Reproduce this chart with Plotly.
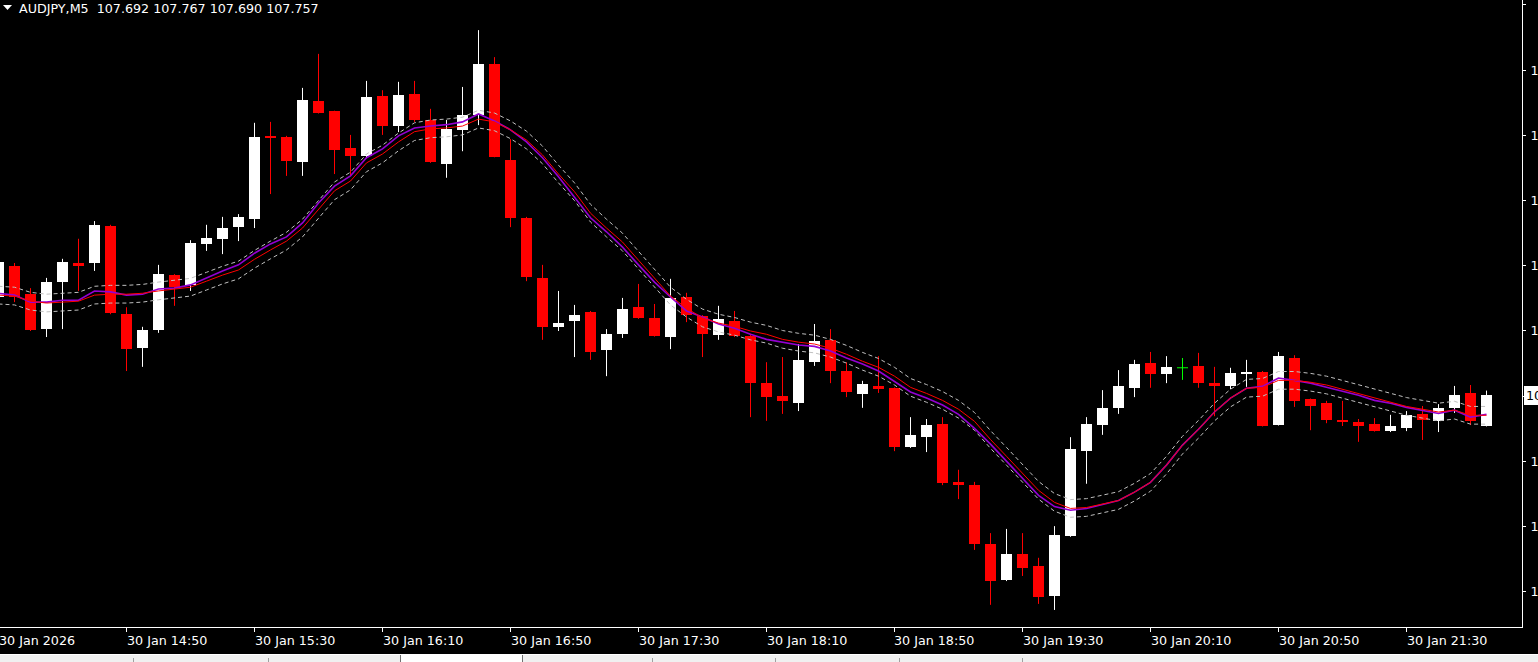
import plotly.graph_objects as go
import pandas as pd

# ---------------- data ----------------
symbol = "AUDJPY"
timeframe = "M5"
times = [t.strftime("%H:%M") for t in pd.date_range("2026-01-30 14:10", periods=94, freq="5min")]

opens = [107.968, 108.034, 107.974, 107.899, 108.000, 108.041, 108.041, 108.120, 107.931, 107.858,
         107.897, 108.015, 107.994, 108.082, 108.093, 108.118, 108.135, 108.314, 108.312, 108.258,
         108.389, 108.367, 108.288, 108.271, 108.400, 108.335, 108.404, 108.348, 108.254, 108.327,
         108.359, 108.468, 108.262, 108.138, 108.009, 107.904, 107.916, 107.936, 107.854, 107.889,
         107.946, 107.923, 107.882, 107.968, 107.927, 107.886, 107.916, 107.884, 107.783, 107.755,
         107.740, 107.828, 107.876, 107.809, 107.760, 107.777, 107.773, 107.646, 107.667, 107.695,
         107.571, 107.564, 107.438, 107.360, 107.416, 107.390, 107.326, 107.455, 107.637, 107.693,
         107.730, 107.773, 107.826, 107.803, 107.816, 107.820, 107.783, 107.777, 107.803, 107.807,
         107.693, 107.837, 107.749, 107.740, 107.704, 107.700, 107.695, 107.680, 107.687, 107.717,
         107.702, 107.730, 107.762, 107.692]
highs = [108.052, 108.041, 107.987, 108.009, 108.050, 108.093, 108.131, 108.123, 107.946, 107.904,
         108.037, 108.017, 108.090, 108.123, 108.140, 108.146, 108.342, 108.344, 108.314, 108.417,
         108.490, 108.368, 108.316, 108.432, 108.412, 108.430, 108.432, 108.372, 108.348, 108.419,
         108.541, 108.483, 108.307, 108.140, 108.037, 107.981, 107.951, 107.938, 107.899, 107.966,
         107.996, 107.953, 108.007, 107.977, 107.929, 107.949, 107.938, 107.889, 107.828, 107.839,
         107.867, 107.910, 107.899, 107.828, 107.788, 107.841, 107.774, 107.710, 107.706, 107.710,
         107.597, 107.571, 107.461, 107.470, 107.461, 107.408, 107.476, 107.667, 107.710, 107.768,
         107.811, 107.833, 107.850, 107.841, 107.837, 107.848, 107.818, 107.816, 107.833, 107.809,
         107.850, 107.843, 107.750, 107.745, 107.745, 107.706, 107.708, 107.715, 107.723, 107.734,
         107.738, 107.777, 107.779, 107.767]
lows = [107.962, 107.957, 107.895, 107.882, 107.899, 107.981, 108.024, 107.931, 107.809, 107.818,
        107.891, 107.949, 107.981, 108.067, 108.060, 108.088, 108.116, 108.189, 108.228, 108.228,
        108.362, 108.232, 108.228, 108.266, 108.316, 108.322, 108.344, 108.256, 108.224, 108.281,
        108.337, 108.268, 108.118, 108.002, 107.876, 107.895, 107.839, 107.833, 107.798, 107.880,
        107.921, 107.883, 107.856, 107.914, 107.839, 107.876, 107.882, 107.710, 107.702, 107.717,
        107.723, 107.820, 107.783, 107.753, 107.730, 107.762, 107.637, 107.644, 107.635, 107.564,
        107.534, 107.425, 107.307, 107.358, 107.369, 107.309, 107.296, 107.453, 107.567, 107.672,
        107.717, 107.753, 107.773, 107.783, 107.790, 107.773, 107.712, 107.770, 107.775, 107.690,
        107.692, 107.732, 107.682, 107.697, 107.691, 107.657, 107.679, 107.678, 107.680, 107.661,
        107.678, 107.719, 107.693, 107.690]
closes = [108.043, 107.968, 107.897, 108.000, 108.043, 108.034, 108.123, 107.934, 107.856, 107.897,
          108.017, 107.989, 108.084, 108.095, 108.116, 108.140, 108.312, 108.309, 108.260, 108.391,
          108.363, 108.284, 108.271, 108.397, 108.335, 108.402, 108.348, 108.258, 108.329, 108.359,
          108.468, 108.269, 108.138, 108.011, 107.904, 107.912, 107.929, 107.850, 107.889, 107.942,
          107.923, 107.884, 107.966, 107.929, 107.889, 107.921, 107.884, 107.783, 107.753, 107.745,
          107.833, 107.874, 107.809, 107.764, 107.781, 107.770, 107.646, 107.672, 107.693, 107.569,
          107.564, 107.438, 107.358, 107.416, 107.386, 107.324, 107.457, 107.642, 107.695, 107.730,
          107.777, 107.824, 107.803, 107.818, 107.816, 107.783, 107.779, 107.805, 107.807, 107.691,
          107.841, 107.745, 107.734, 107.704, 107.700, 107.691, 107.680, 107.691, 107.715, 107.704,
          107.730, 107.757, 107.702, 107.757]

ma_red = [107.972, 107.970, 107.959, 107.955, 107.957, 107.959, 107.972, 107.974, 107.974, 107.976,
          107.981, 107.985, 107.989, 108.002, 108.015, 108.026, 108.049, 108.069, 108.088, 108.116,
          108.157, 108.196, 108.217, 108.256, 108.275, 108.301, 108.323, 108.329, 108.331, 108.335,
          108.350, 108.344, 108.327, 108.305, 108.273, 108.232, 108.194, 108.148, 108.116, 108.086,
          108.047, 108.009, 107.970, 107.944, 107.923, 107.912, 107.905, 107.895, 107.888, 107.877,
          107.871, 107.867, 107.858, 107.845, 107.830, 107.817, 107.798, 107.774, 107.761, 107.746,
          107.727, 107.701, 107.662, 107.626, 107.589, 107.553, 107.527, 107.514, 107.516, 107.523,
          107.531, 107.549, 107.570, 107.607, 107.650, 107.684, 107.721, 107.751, 107.772, 107.774,
          107.789, 107.789, 107.785, 107.779, 107.770, 107.761, 107.751, 107.742, 107.733, 107.727,
          107.721, 107.725, 107.714, 107.714]
ma_purple = [107.976, 107.972, 107.957, 107.957, 107.961, 107.961, 107.981, 107.979, 107.972, 107.974,
             107.985, 107.987, 107.994, 108.009, 108.024, 108.037, 108.062, 108.082, 108.097, 108.127,
             108.170, 108.206, 108.228, 108.267, 108.286, 108.314, 108.331, 108.335, 108.338, 108.344,
             108.361, 108.346, 108.327, 108.301, 108.267, 108.226, 108.181, 108.138, 108.108, 108.075,
             108.037, 108.000, 107.968, 107.938, 107.925, 107.910, 107.901, 107.888, 107.877, 107.871,
             107.865, 107.862, 107.852, 107.837, 107.824, 107.809, 107.787, 107.764, 107.751, 107.736,
             107.716, 107.686, 107.652, 107.615, 107.579, 107.542, 107.518, 107.510, 107.514, 107.523,
             107.531, 107.549, 107.570, 107.607, 107.650, 107.684, 107.721, 107.751, 107.772, 107.776,
             107.794, 107.789, 107.783, 107.774, 107.766, 107.757, 107.746, 107.740, 107.731, 107.725,
             107.718, 107.725, 107.710, 107.716]
env_upper = [107.991, 107.989, 107.978, 107.974, 107.976, 107.978, 107.991, 107.993, 107.993, 107.995,
             108.000, 108.004, 108.008, 108.021, 108.034, 108.045, 108.068, 108.088, 108.107, 108.135,
             108.176, 108.215, 108.236, 108.275, 108.294, 108.320, 108.342, 108.348, 108.350, 108.354,
             108.369, 108.363, 108.346, 108.324, 108.292, 108.251, 108.213, 108.167, 108.135, 108.105,
             108.066, 108.028, 107.989, 107.963, 107.942, 107.931, 107.924, 107.914, 107.907, 107.896,
             107.890, 107.886, 107.877, 107.864, 107.849, 107.836, 107.817, 107.793, 107.780, 107.765,
             107.746, 107.720, 107.681, 107.645, 107.608, 107.572, 107.546, 107.533, 107.535, 107.542,
             107.550, 107.568, 107.589, 107.626, 107.669, 107.703, 107.740, 107.770, 107.791, 107.793,
             107.808, 107.808, 107.804, 107.798, 107.789, 107.780, 107.770, 107.761, 107.752, 107.746,
             107.740, 107.744, 107.733, 107.733]
env_lower = [107.953, 107.951, 107.940, 107.936, 107.938, 107.940, 107.953, 107.955, 107.955, 107.957,
             107.962, 107.966, 107.970, 107.983, 107.996, 108.007, 108.030, 108.050, 108.069, 108.097,
             108.138, 108.177, 108.198, 108.237, 108.256, 108.282, 108.304, 108.310, 108.312, 108.316,
             108.331, 108.325, 108.308, 108.286, 108.254, 108.213, 108.175, 108.129, 108.097, 108.067,
             108.028, 107.990, 107.951, 107.925, 107.904, 107.893, 107.886, 107.876, 107.869, 107.858,
             107.852, 107.848, 107.839, 107.826, 107.811, 107.798, 107.779, 107.755, 107.742, 107.727,
             107.708, 107.682, 107.643, 107.607, 107.570, 107.534, 107.508, 107.495, 107.497, 107.504,
             107.512, 107.530, 107.551, 107.588, 107.631, 107.665, 107.702, 107.732, 107.753, 107.755,
             107.770, 107.770, 107.766, 107.760, 107.751, 107.742, 107.732, 107.723, 107.714, 107.708,
             107.702, 107.706, 107.695, 107.695]

label_times = ["14:10", "14:50", "15:30", "16:10", "16:50", "17:30", "18:10", "18:50",
               "19:30", "20:10", "20:50", "21:30"]
label_texts = ["30 Jan 2026", "30 Jan 14:50", "30 Jan 15:30", "30 Jan 16:10", "30 Jan 16:50",
               "30 Jan 17:30", "30 Jan 18:10", "30 Jan 18:50", "30 Jan 19:30", "30 Jan 20:10",
               "30 Jan 20:50", "30 Jan 21:30"]
price_ticks = [107.335, 107.475, 107.615, 107.755, 107.895, 108.035, 108.175, 108.315, 108.455, 108.595]

# ---------------- styling ----------------
BULL = "#ffffff"
BEAR = "#ff0000"
DOJI = "#00ff00"
FONT = "DejaVu Sans"
FS = 12.7
W, H = 1538, 662
PLOT_W, PLOT_H = 1522, 627
BODY_W = 0.6875

n = len(opens)
xs = list(range(n))

fig = go.Figure()

# candle bodies
body_base = [min(o, c) for o, c in zip(opens, closes)]
body_len = [abs(c - o) for o, c in zip(opens, closes)]
body_col = [BULL if c > o else (BEAR if c < o else DOJI) for o, c in zip(opens, closes)]
fig.add_trace(go.Bar(x=xs, base=body_base, y=body_len, width=BODY_W,
                     marker=dict(color=body_col, line=dict(width=0)),
                     hoverinfo="skip", showlegend=False))

# wicks
def wick_trace(cond, color):
    wx, wy = [], []
    for i in range(n):
        if cond(opens[i], closes[i]):
            wx += [i, i, None]
            wy += [lows[i], highs[i], None]
    return go.Scatter(x=wx, y=wy, mode="lines", line=dict(color=color, width=1),
                      hoverinfo="skip", showlegend=False)

fig.add_trace(wick_trace(lambda o, c: c > o, BULL))
fig.add_trace(wick_trace(lambda o, c: c < o, BEAR))
fig.add_trace(wick_trace(lambda o, c: c == o, DOJI))
# doji horizontal bar
dx, dy = [], []
for i in range(n):
    if opens[i] == closes[i]:
        dx += [i - BODY_W / 2, i + BODY_W / 2, None]
        dy += [opens[i], opens[i], None]
fig.add_trace(go.Scatter(x=dx, y=dy, mode="lines", line=dict(color=DOJI, width=1),
                         hoverinfo="skip", showlegend=False))

# indicators
for arr in (env_upper, env_lower):
    fig.add_trace(go.Scatter(x=xs, y=arr, mode="lines",
                             line=dict(color="#c0c0c0", width=1, dash="4px,3px"),
                             hoverinfo="skip", showlegend=False))
fig.add_trace(go.Scatter(x=xs, y=ma_purple, mode="lines", line=dict(color="#9400d3", width=1.6),
                         hoverinfo="skip", showlegend=False))
fig.add_trace(go.Scatter(x=xs, y=ma_red, mode="lines", line=dict(color="#ff0000", width=1),
                         hoverinfo="skip", showlegend=False))

# axes ranges: 16 px per bar, first bar centre at x = -1.5 px
x0 = 1.5 / 16
x1 = x0 + PLOT_W / 16
y_top = 108.6057
y_bot = y_top - PLOT_H * 0.0021472

tick_pos = [times.index(t) for t in label_times]

annotations = []
for pos, txt in zip(tick_pos, label_texts):
    annotations.append(dict(x=(pos - x0) / (x1 - x0), xref="paper", y=0, yref="paper",
                            yanchor="middle", yshift=-13,
                            xanchor="left", text=txt, showarrow=False, borderpad=0, borderwidth=0,
                            font=dict(family=FONT, size=FS, color="#ffffff")))

title = f"{symbol},{timeframe}\u00a0 {opens[-1]:.3f} {highs[-1]:.3f} {lows[-1]:.3f} {closes[-1]:.3f}"
annotations.append(dict(x=19 / PLOT_W, xref="paper", y=1 - 9 / PLOT_H, yref="paper",
                        xanchor="left", yanchor="middle", text=title, showarrow=False,
                        borderpad=0, borderwidth=0,
                        font=dict(family=FONT, size=FS, color="#ffffff")))
# current price label
annotations.append(dict(x=1, xref="paper", xshift=2, y=closes[-1], yref="y",
                        xanchor="left", yanchor="middle", text=f"{closes[-1]:.3f}", showarrow=False,
                        bgcolor="#ffffff", borderpad=1, borderwidth=1, bordercolor="#ffffff",
                        font=dict(family=FONT, size=FS, color="#000000")))

def px(xp):
    return xp / PLOT_W

def py(yp):
    return (PLOT_H - yp) / PLOT_H

shapes = [
    # header triangle
    dict(type="path", xref="paper", yref="paper",
         path=f"M {px(3)} {py(5)} L {px(12)} {py(5)} L {px(7.5)} {py(10)} Z",
         fillcolor="#ffffff", line=dict(width=0)),
    # bottom tab bar
    dict(type="rect", xref="paper", yref="paper", x0=0, x1=px(W + 10), y0=py(655), y1=py(H + 10),
         fillcolor="#f0f0f0", line=dict(width=0), layer="above"),
    dict(type="line", xref="paper", yref="paper", x0=0, x1=px(W + 10), y0=py(654.5), y1=py(654.5),
         line=dict(color="#ffffff", width=1), layer="above"),
    dict(type="rect", xref="paper", yref="paper", x0=px(400), x1=px(523), y0=py(654), y1=py(H + 10),
         fillcolor="#ffffff", line=dict(width=0), layer="above"),
]
for sx in (400.5, 522.5):
    shapes.append(dict(type="line", xref="paper", yref="paper", x0=px(sx), x1=px(sx), y0=py(655), y1=py(H + 10),
                       line=dict(color="#707070", width=1), layer="above"))
for sx in (133.5, 268.5, 652.5, 775.5, 899.5, 1022.5):
    shapes.append(dict(type="line", xref="paper", yref="paper", x0=px(sx), x1=px(sx), y0=py(658), y1=py(H + 10),
                       line=dict(color="#a0a0a0", width=1), layer="above"))

# the tick under the current-price label is hidden by that label in the reference
close_last = closes[-1]
tick_text = ["" if abs(v - close_last) < 0.01 else f"{v:.3f}" for v in price_ticks]

fig.update_layout(
    width=W, height=H,
    margin=dict(l=0, r=W - PLOT_W, t=0, b=H - PLOT_H, pad=0, autoexpand=False),
    paper_bgcolor="#000000", plot_bgcolor="#000000",
    showlegend=False, hovermode=False, bargap=0,
    annotations=annotations, shapes=shapes,
    xaxis=dict(range=[x0, x1], showgrid=False, zeroline=False, showline=True, linecolor="#ffffff",
               linewidth=1, ticks="outside", ticklen=4, tickcolor="#ffffff", tickwidth=1,
               tickvals=tick_pos, showticklabels=False, fixedrange=True, automargin=False),
    yaxis=dict(range=[y_bot, y_top], side="right", showgrid=False, zeroline=False, showline=True,
               linecolor="#ffffff", linewidth=1, ticks="outside", ticklen=3, tickcolor="#ffffff",
               tickwidth=1, tickvals=price_ticks, ticktext=tick_text, fixedrange=True,
               automargin=False, ticklabelstandoff=2,
               tickfont=dict(family=FONT, size=FS, color="#ffffff")),
)

fig.write_html("out.html", config={"displayModeBar": False},
               post_script="document.body.style.margin='0';document.body.style.overflow='hidden';")
